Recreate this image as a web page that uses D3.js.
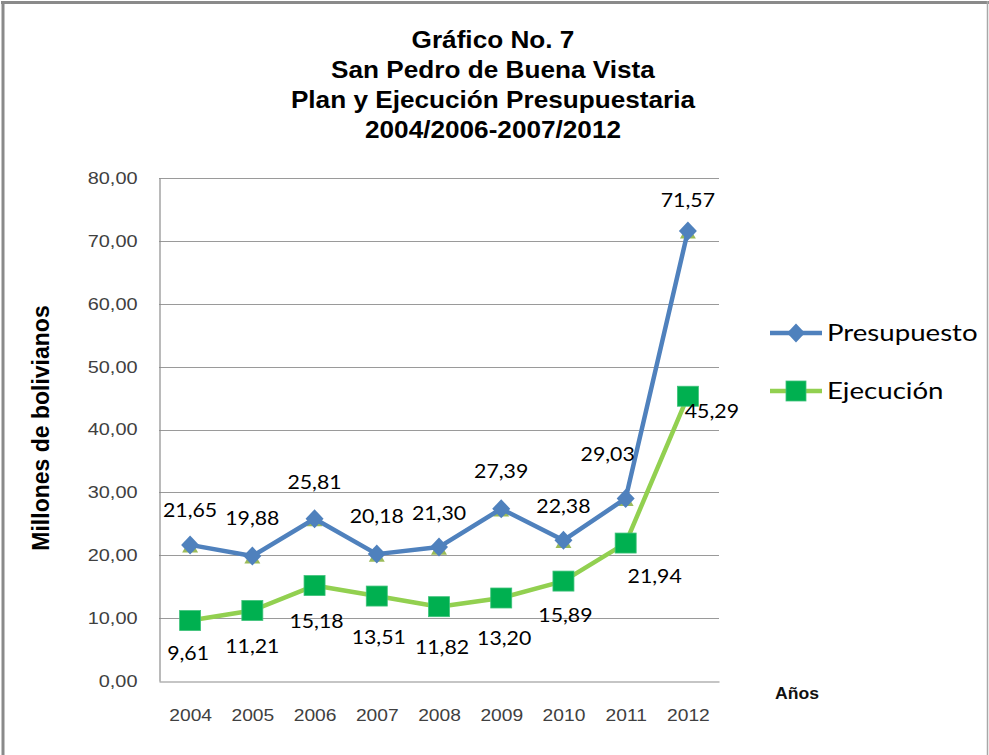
<!DOCTYPE html>
<html lang="es">
<head>
<meta charset="utf-8">
<script src="https://cdn.jsdelivr.net/npm/d3@7"></script>
<style>
  html, body { margin: 0; padding: 0; background: #fff; }
  svg { display: block; }
</style>
</head>
<body>
<svg id="chart" width="989" height="755"></svg>
<script>
// ---- data ----
const years = ["2004", "2005", "2006", "2007", "2008", "2009", "2010", "2011", "2012"];
const presupuesto = [21.65, 19.88, 25.81, 20.18, 21.30, 27.39, 22.38, 29.03, 71.57];
const ejecucion = [9.61, 11.21, 15.18, 13.51, 11.82, 13.20, 15.89, 21.94, 45.29];
const yTicks = [0, 10, 20, 30, 40, 50, 60, 70, 80];
const titleLines = ["Gráfico No. 7", "San Pedro de Buena Vista", "Plan y Ejecución Presupuestaria", "2004/2006-2007/2012"];
const seriesNames = ["Presupuesto", "Ejecución"];

// ---- layout ----
const W = 989, H = 755;
const plot = { left: 159, right: 719, top: 178, bottom: 681 };
const STRETCH = 1.2; // horizontal widening applied to text glyphs

// per-point nudges for the value labels (dx, dy from the marker)
const planLabelNudge = [[0,-35],[0,-38],[0,-36],[0,-38],[0,-34],[0,-37],[0,-34],[-18,-44],[0,-31]];
const ejecLabelNudge = [[-2,33],[0,36],[2,36],[2,41],[3,41],[3,40],[2,34],[29,33],[24,15]];

const fmt = v => v.toFixed(2).replace(".", ",");

const svg = d3.select("#chart");

function stretch(sel, k) {
  sel.each(function () {
    const len = this.getComputedTextLength();
    d3.select(this).attr("textLength", len * k).attr("lengthAdjust", "spacingAndGlyphs");
  });
  return sel;
}

// outer frame
svg.append("rect").attr("width", W).attr("height", H).attr("fill", "#fff");
svg.append("line").attr("x1", 1).attr("x2", W).attr("y1", 2.5).attr("y2", 2.5)
  .attr("stroke", "#8a8a8a").attr("stroke-width", 3);
svg.append("line").attr("x1", 3).attr("x2", 3).attr("y1", 1).attr("y2", H)
  .attr("stroke", "#8a8a8a").attr("stroke-width", 3);
svg.append("line").attr("x1", 987.5).attr("x2", 987.5).attr("y1", 1).attr("y2", H)
  .attr("stroke", "#a8a8a8").attr("stroke-width", 1.5);

// title
const title = svg.append("g").attr("font-family", "'Liberation Sans', Arial, sans-serif")
  .attr("font-weight", "bold").attr("font-size", 24).attr("fill", "#000")
  .attr("text-anchor", "middle");
titleLines.forEach((t, i) => {
  stretch(title.append("text").attr("x", 493).attr("y", 48 + i * 30).text(t), 1.09);
});

// scales
const x = d3.scalePoint().domain(years).range([plot.left, plot.right]).padding(0.5);
const y = d3.scaleLinear().domain([0, 80]).range([plot.bottom, plot.top]);

// gridlines
svg.append("g").selectAll("line").data(yTicks.filter(d => d > 0)).join("line")
  .attr("x1", plot.left).attr("x2", plot.right)
  .attr("y1", d => Math.round(y(d)) + 0.5).attr("y2", d => Math.round(y(d)) + 0.5)
  .attr("stroke", "#9a9a9a").attr("stroke-width", 1);

// y axis
const yAxis = svg.append("g").attr("transform", `translate(${plot.left + 0.5},0)`)
  .call(d3.axisLeft(y).tickValues(yTicks).tickSize(0).tickPadding(22).tickFormat(fmt));
yAxis.select(".domain").attr("stroke", "#8c8c8c").attr("stroke-width", 1.2);
yAxis.selectAll("text").attr("font-family", "'Liberation Sans', Arial, sans-serif")
  .attr("font-size", 17).attr("fill", "#404040");
stretch(yAxis.selectAll("text"), 1.17);

// x axis
const xAxis = svg.append("g").attr("transform", `translate(0,${plot.bottom + 0.5})`)
  .call(d3.axisBottom(x).tickSize(0).tickPadding(28));
xAxis.select(".domain").attr("stroke", "#8c8c8c").attr("stroke-width", 1.2);
xAxis.selectAll("text").attr("font-family", "'Liberation Sans', Arial, sans-serif")
  .attr("font-size", 16).attr("fill", "#404040");
stretch(xAxis.selectAll("text"), STRETCH);

// axis titles
svg.append("text").attr("transform", "translate(49,428) rotate(-90)")
  .attr("text-anchor", "middle").attr("font-family", "'Liberation Sans', Arial, sans-serif")
  .attr("font-weight", "bold").attr("font-size", 23).attr("fill", "#000")
  .text("Millones de bolivianos");
stretch(svg.append("text").attr("x", 797).attr("y", 699)
  .attr("text-anchor", "middle").attr("font-family", "'Liberation Sans', Arial, sans-serif")
  .attr("font-weight", "bold").attr("font-size", 16).attr("fill", "#111")
  .text("Años"), 1.1);

// series
const BLUE = "#4F81BD", LGREEN = "#92D050", DGREEN = "#00B050", OLIVE = "#9BBB59";
const pts = vals => vals.map((v, i) => [x(years[i]), y(v)]);
const line = d3.line();

// auxiliary triangle markers sitting under the budget series
svg.append("g").selectAll("path").data(presupuesto).join("path")
  .attr("d", d3.symbol(d3.symbolTriangle, 110))
  .attr("transform", (d, i) => `translate(${x(years[i])},${y(d) + 3})`)
  .attr("fill", OLIVE);

svg.append("path").attr("d", line(pts(ejecucion))).attr("fill", "none")
  .attr("stroke", LGREEN).attr("stroke-width", 4.5).attr("stroke-linejoin", "round");
svg.append("path").attr("d", line(pts(presupuesto))).attr("fill", "none")
  .attr("stroke", BLUE).attr("stroke-width", 4.5).attr("stroke-linejoin", "round");

const diamond = "M0,-9.5L9,0L0,9.5L-9,0Z";
svg.append("g").selectAll("path").data(presupuesto).join("path")
  .attr("d", diamond)
  .attr("transform", (d, i) => `translate(${x(years[i])},${y(d)})`)
  .attr("fill", BLUE);

svg.append("g").selectAll("rect").data(ejecucion).join("rect")
  .attr("x", (d, i) => x(years[i]) - 10.5).attr("y", d => y(d) - 10)
  .attr("width", 21).attr("height", 20)
  .attr("fill", DGREEN).attr("stroke", "#3fc27a").attr("stroke-width", 0.8);

// value labels
const labelFont = "Lato, 'Open Sans', sans-serif";
const planLabels = svg.append("g").selectAll("text").data(presupuesto).join("text")
  .attr("x", (d, i) => x(years[i]) + planLabelNudge[i][0])
  .attr("y", (d, i) => y(d) + planLabelNudge[i][1])
  .attr("dy", "0.35em").attr("text-anchor", "middle")
  .attr("font-family", labelFont).attr("font-size", 19).attr("fill", "#000")
  .text(fmt);
stretch(planLabels, 1.12);
const ejecLabels = svg.append("g").selectAll("text").data(ejecucion).join("text")
  .attr("x", (d, i) => x(years[i]) + ejecLabelNudge[i][0])
  .attr("y", (d, i) => y(d) + ejecLabelNudge[i][1])
  .attr("dy", "0.35em").attr("text-anchor", "middle")
  .attr("font-family", labelFont).attr("font-size", 19).attr("fill", "#000")
  .text(fmt);
stretch(ejecLabels, 1.12);

// legend
const legend = svg.append("g");
const legendRows = [
  { name: seriesNames[0], line: BLUE, y: 333, marker: "diamond" },
  { name: seriesNames[1], line: LGREEN, y: 391, marker: "square" }
];
legendRows.forEach(r => {
  legend.append("line").attr("x1", 770).attr("x2", 822).attr("y1", r.y).attr("y2", r.y)
    .attr("stroke", r.line).attr("stroke-width", 4.5);
  if (r.marker === "diamond") {
    legend.append("path").attr("d", diamond).attr("transform", `translate(796,${r.y})`).attr("fill", BLUE);
  } else {
    legend.append("rect").attr("x", 786).attr("y", r.y - 10).attr("width", 20).attr("height", 20)
      .attr("fill", DGREEN).attr("stroke", "#3fc27a").attr("stroke-width", 0.8);
  }
  stretch(legend.append("text").attr("x", 827).attr("y", r.y).attr("dy", "0.35em")
    .attr("font-family", labelFont).attr("font-size", 23).attr("fill", "#000")
    .text(r.name), 1.2);
});
</script>
</body>
</html>
